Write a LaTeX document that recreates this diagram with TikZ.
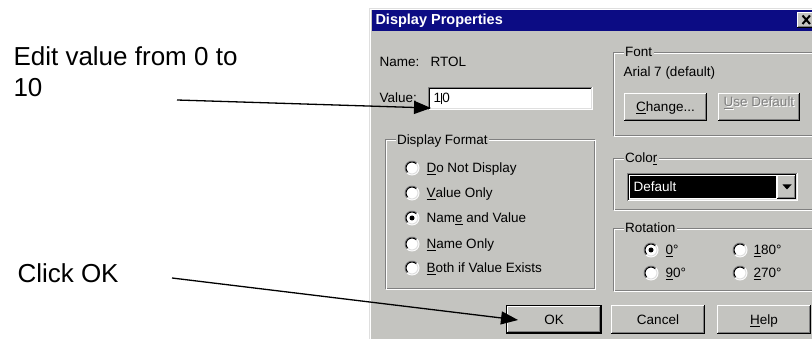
\documentclass[tikz,border=0pt]{standalone}
\usepackage{fontspec}
\setmainfont{Liberation Sans}
\usetikzlibrary{arrows.meta}
\definecolor{dlg}{RGB}{196,196,192}
\definecolor{navy}{RGB}{12,12,132}
\definecolor{dkgray}{RGB}{128,128,128}
\definecolor{ltgray}{RGB}{223,223,223}
\tikzset{
  dlgtext/.style={font=\fontsize{13.5}{16}\selectfont, inner sep=0pt, anchor=base west, text=black},
  btntext/.style={dlgtext, anchor=base},
  titletext/.style={font=\bfseries\fontsize{14.5}{17}\selectfont, inner sep=0pt, anchor=base west, text=white},
  grouplabel/.style={dlgtext, fill=dlg, inner xsep=1.5pt, inner ysep=0.5pt},
  callout/.style={font=\fontsize{26}{31.5}\selectfont, inner sep=0pt, align=left},
  pointer/.style={line width=1.3pt, -{Triangle[length=17pt,width=13pt]}}
}
\newcommand\wraised[4]{%
  \fill[dlg] (#1,#2) rectangle (#3,#4);
  \draw[black] (#1,#4-0.5) -- (#3-0.5,#4-0.5) -- (#3-0.5,#2);
  \draw[white] (#1+0.5,#4-1) -- (#1+0.5,#2+0.5) -- (#3-1,#2+0.5);
  \draw[dkgray] (#1+1,#4-1.5) -- (#3-1.5,#4-1.5) -- (#3-1.5,#2+1);
}
\newcommand\wsunken[4]{%
  \fill[white] (#1,#2) rectangle (#3,#4);
  \draw[dkgray] (#1+0.5,#4) -- (#1+0.5,#2+0.5) -- (#3,#2+0.5);
  \draw[black] (#1+1.5,#4-1) -- (#1+1.5,#2+1.5) -- (#3-1,#2+1.5);
  \draw[white] (#1+0.5,#4-0.5) -- (#3-0.5,#4-0.5) -- (#3-0.5,#2+0.5);
  \draw[ltgray] (#1+1.5,#4-1.5) -- (#3-1.5,#4-1.5) -- (#3-1.5,#2+1.5);
}
\newcommand\wgroup[4]{%
  \draw[dkgray] (#1+0.5,#2+0.5) rectangle (#3-1.5,#4-1.5);
  \draw[white] (#1+1.5,#2+1.5) rectangle (#3-0.5,#4-0.5);
}
\newcommand\wbutton[6]{%
  \wraised{#2}{#3}{#4}{#5}
  \node[btntext] (#1) at ({(#2+#4)/2},{(#3+#5)/2+5}) {#6};
}
\newcommand\wradio[3]{%
  \coordinate (#1) at (#2,#3);
  \fill[white] (#1) circle[radius=7.5pt];
  \draw[dkgray] ([shift={(45:7pt)}]#1) arc[start angle=45,end angle=225,radius=7pt];
  \draw[black] ([shift={(45:6pt)}]#1) arc[start angle=45,end angle=225,radius=6pt];
  \draw[ltgray] ([shift={(225:6pt)}]#1) arc[start angle=225,end angle=405,radius=6pt];
}
\begin{document}
\begin{tikzpicture}[x=1pt,y=-1pt,line width=1pt]
\useasboundingbox (0,0) rectangle (812,339);
\clip (0,0) rectangle (812,339);
\fill[white] (0,0) rectangle (812,339);

% dialog frame
\fill[dlg] (369,8) rectangle (830,350);
\draw[ltgray] (369.5,350) -- (369.5,8.5) -- (830,8.5);
\draw[white] (370.5,350) -- (370.5,9.5) -- (830,9.5);
\fill[navy] (372,10) rectangle (830,31);
\node[titletext] (title) at (375,25) {Display Properties};

% close button
\wraised{797}{12}{816}{28}
\draw[black,line width=2pt] (802.5,15.5) -- (810,24) (802.5,24) -- (810,15.5);

% name and value
\node[dlgtext] (namelbl) at (379,67) {Name:};
\node[dlgtext] (nameval) at (430,67) {RTOL};
\node[dlgtext] (valuelbl) at (379,103) {Value:};
\wsunken{428}{87}{593}{110}
\node[dlgtext] (valuetxt) at (433,103) {1\hspace{0.3pt}\rule[-1.5pt]{0.8pt}{11.5pt}\hspace{0.3pt}0};

% display format group
\wgroup{385}{139}{596}{290}
\node[grouplabel] (dfmt) at (395,145) {Display Format};
\wradio{rb1}{412}{168}
\wradio{rb2}{412}{193}
\wradio{rb3}{412}{218}
\wradio{rb4}{412}{244}
\wradio{rb5}{412}{268}
\fill[black] (rb3) circle[radius=2.5pt];
\node[dlgtext] (lb1) at (426,173) {\underline{D}o Not Display};
\node[dlgtext] (lb2) at (426,198) {\underline{V}alue Only};
\node[dlgtext] (lb3) at (426,223) {Nam\underline{e} and Value};
\node[dlgtext] (lb4) at (426,249) {\underline{N}ame Only};
\node[dlgtext] (lb5) at (426,273) {\underline{B}oth if Value Exists};

% font group
\wgroup{613}{52}{830}{137}
\node[grouplabel] (fontlbl) at (623,57) {Font};
\node[dlgtext] (fontval) at (623,77) {Arial 7 (default)};
\wbutton{change}{624}{93}{707}{121}{\underline{C}hange...}
\wraised{718}{93}{800}{121}
\node[btntext,text=white] (usedefsh) at (760,108) {\underline{U}se Default};
\node[btntext,text=dkgray] (usedef) at (759,107) {\underline{U}se Default};

% color group
\wgroup{613}{158}{830}{211}
\node[grouplabel] (colorlbl) at (623,163) {Colo\underline{r}};
\wsunken{627}{173}{798}{201}
\fill[black] (630,176) rectangle (776,198);
\node[dlgtext,text=white] (colorval) at (633,192) {Default};
\wraised{777}{175}{796}{199}
\fill[black] (782.5,184.5) -- (791.5,184.5) -- (787,189.5) -- cycle;

% rotation group
\wgroup{613}{228}{830}{292}
\node[grouplabel] (rotlbl) at (623,233) {Rotation};
\wradio{r0}{651}{250}
\wradio{r180}{740}{250}
\wradio{r90}{651}{273}
\wradio{r270}{740}{273}
\fill[black] (r0) circle[radius=2.5pt];
\node[dlgtext] (l0) at (665,255) {\underline{0}°};
\node[dlgtext] (l180) at (753,255) {\underline{1}80°};
\node[dlgtext] (l90) at (665,278) {\underline{9}0°};
\node[dlgtext] (l270) at (753,278) {\underline{2}70°};

% bottom buttons
\fill[black] (506,305) rectangle (602,334);
\wraised{507}{306}{601}{333}
\node[btntext] (ok) at (554,325) {OK};
\wbutton{cancel}{611}{305}{705}{334}{Cancel}
\wbutton{help}{717}{305}{811}{334}{\underline{H}elp}

% callouts
\node[callout,anchor=north west] (edit) at (13,46) {Edit value from 0 to\\10};
\node[callout,anchor=base west] (click) at (17,283) {Click OK};
\coordinate (tail1) at (177,100);
\coordinate (tip1) at (431,108);
\coordinate (tail2) at (172,278);
\coordinate (tip2) at (518,320);
\draw[pointer] (tail1) -- (tip1);
\draw[pointer] (tail2) -- (tip2);
\end{tikzpicture}
\end{document}
